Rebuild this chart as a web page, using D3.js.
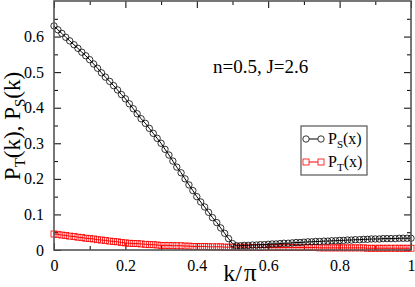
<!DOCTYPE html>
<html>
<head>
<meta charset="utf-8">
<script src="https://cdn.jsdelivr.net/npm/d3@7"></script>
<style>
  body { margin: 0; background: #fff; }
  svg { display: block; }
  text { font-family: "Liberation Serif", "Times New Roman", serif; fill: #000; }
</style>
</head>
<body>
<div id="chart"></div>
<script>
// k / pi values
const kVals = [
  0, 0.011, 0.022, 0.033, 0.044, 0.056, 0.067, 0.078, 0.089,
  0.1, 0.111, 0.122, 0.133, 0.144, 0.156, 0.167, 0.178, 0.189,
  0.2, 0.211, 0.222, 0.233, 0.244, 0.256, 0.267, 0.278, 0.289,
  0.3, 0.311, 0.322, 0.333, 0.344, 0.356, 0.367, 0.378, 0.389,
  0.4, 0.411, 0.422, 0.433, 0.444, 0.456, 0.467, 0.478, 0.489,
  0.5, 0.511, 0.522, 0.533, 0.544, 0.556, 0.567, 0.578, 0.589,
  0.6, 0.611, 0.622, 0.633, 0.644, 0.656, 0.667, 0.678, 0.689,
  0.7, 0.711, 0.722, 0.733, 0.744, 0.756, 0.767, 0.778, 0.789,
  0.8, 0.811, 0.822, 0.833, 0.844, 0.856, 0.867, 0.878, 0.889,
  0.9, 0.911, 0.922, 0.933, 0.944, 0.956, 0.967, 0.978, 0.989,
  1.0
];

const psVals = [
  0.630, 0.619, 0.609, 0.598, 0.588, 0.577, 0.567, 0.556, 0.546,
  0.535, 0.523, 0.511, 0.498, 0.486, 0.474, 0.462, 0.450, 0.437,
  0.425, 0.411, 0.397, 0.383, 0.369, 0.356, 0.342, 0.328, 0.314,
  0.300, 0.283, 0.267, 0.250, 0.233, 0.217, 0.200, 0.183, 0.167,
  0.150, 0.135, 0.121, 0.106, 0.091, 0.077, 0.062, 0.047, 0.032,
  0.018, 0.012, 0.012, 0.013, 0.013, 0.014, 0.014, 0.015, 0.015,
  0.016, 0.017, 0.017, 0.018, 0.019, 0.019, 0.020, 0.021, 0.021,
  0.022, 0.023, 0.023, 0.024, 0.024, 0.025, 0.025, 0.026, 0.026,
  0.027, 0.027, 0.028, 0.028, 0.029, 0.029, 0.030, 0.030, 0.031,
  0.031, 0.031, 0.032, 0.032, 0.032, 0.032, 0.033, 0.033, 0.033,
  0.033
];

const ptVals = [
  0.045, 0.044, 0.042, 0.041, 0.039, 0.038, 0.036, 0.035, 0.033,
  0.032, 0.031, 0.029, 0.028, 0.027, 0.025, 0.024, 0.023, 0.021,
  0.020, 0.019, 0.018, 0.018, 0.017, 0.016, 0.015, 0.015, 0.014,
  0.013, 0.013, 0.013, 0.012, 0.012, 0.012, 0.011, 0.011, 0.010,
  0.010, 0.010, 0.010, 0.009, 0.009, 0.009, 0.009, 0.008, 0.008,
  0.008, 0.008, 0.008, 0.008, 0.008, 0.007, 0.007, 0.007, 0.007,
  0.007, 0.007, 0.007, 0.007, 0.007, 0.007, 0.007, 0.007, 0.007,
  0.007, 0.007, 0.007, 0.007, 0.006, 0.006, 0.006, 0.006, 0.006,
  0.006, 0.006, 0.006, 0.006, 0.006, 0.006, 0.006, 0.005, 0.005,
  0.005, 0.005, 0.005, 0.005, 0.005, 0.005, 0.005, 0.005, 0.005,
  0.005
];

const xTicks = [0, 0.2, 0.4, 0.6, 0.8, 1];
const xTickLabels = ["0", "0.2", "0.4", "0.6", "0.8", "1"];
const xMinor = [0.1, 0.3, 0.5, 0.7, 0.9];
const yTicks = [0, 0.1, 0.2, 0.3, 0.4, 0.5, 0.6];
const yTickLabels = ["0", "0.1", "0.2", "0.3", "0.4", "0.5", "0.6"];
const yMinor = [0.05, 0.15, 0.25, 0.35, 0.45, 0.55, 0.65];

const width = 415;
const height = 287;
const margin = { left: 54, right: 4, top: 1, bottom: 37 };
const plotW = width - margin.left - margin.right;
const plotH = height - margin.top - margin.bottom;

const svg = d3.select("#chart")
    .append("svg")
    .attr("width", width)
    .attr("height", height);

const g = svg.append("g")
    .attr("transform", `translate(${margin.left}, ${margin.top})`);

const xScale = d3.scaleLinear().domain([0, 1]).range([0, plotW]);
const yScale = d3.scaleLinear().domain([0, 0.7]).range([plotH, 0]);

const majorLen = 7;
const minorLen = 4;

// inward ticks on all four sides
function styleAxis(sel) {
    sel.select(".domain").remove();
    sel.attr("font-family", null);
    sel.selectAll(".tick line").attr("stroke", "#000").attr("stroke-width", 1);
    sel.selectAll("text").attr("font-size", "16px").attr("fill", "#000");
}

g.append("g")
    .attr("transform", `translate(0, ${plotH})`)
    .call(d3.axisBottom(xScale).tickValues(xTicks).tickSize(-majorLen).tickPadding(majorLen + 3)
        .tickFormat((d, i) => xTickLabels[i]))
    .call(styleAxis);

g.append("g")
    .attr("transform", `translate(0, ${plotH})`)
    .call(d3.axisBottom(xScale).tickValues(xMinor).tickSize(-minorLen).tickFormat(""))
    .call(styleAxis);

g.append("g")
    .call(d3.axisTop(xScale).tickValues(xTicks).tickSize(-majorLen).tickFormat(""))
    .call(styleAxis);

g.append("g")
    .call(d3.axisTop(xScale).tickValues(xMinor).tickSize(-minorLen).tickFormat(""))
    .call(styleAxis);

g.append("g")
    .call(d3.axisLeft(yScale).tickValues(yTicks).tickSize(-majorLen).tickPadding(majorLen + 3)
        .tickFormat((d, i) => yTickLabels[i]))
    .call(styleAxis);

g.append("g")
    .call(d3.axisLeft(yScale).tickValues(yMinor).tickSize(-minorLen).tickFormat(""))
    .call(styleAxis);

g.append("g")
    .attr("transform", `translate(${plotW}, 0)`)
    .call(d3.axisRight(yScale).tickValues(yTicks).tickSize(-majorLen).tickFormat(""))
    .call(styleAxis);

g.append("g")
    .attr("transform", `translate(${plotW}, 0)`)
    .call(d3.axisRight(yScale).tickValues(yMinor).tickSize(-minorLen).tickFormat(""))
    .call(styleAxis);

const psData = kVals.map((k, i) => ({ k: k, v: psVals[i] }));
const ptData = kVals.map((k, i) => ({ k: k, v: ptVals[i] }));

const line = d3.line()
    .x(d => xScale(d.k))
    .y(d => yScale(d.v));

// P_T series (red squares)
g.append("path")
    .datum(ptData)
    .attr("fill", "none")
    .attr("stroke", "#ff0000")
    .attr("stroke-width", 1)
    .attr("d", line);

g.selectAll(".pt")
    .data(ptData)
    .enter().append("rect")
    .attr("class", "pt")
    .attr("x", d => xScale(d.k) - 3)
    .attr("y", d => yScale(d.v) - 3)
    .attr("width", 6)
    .attr("height", 6)
    .attr("fill", "none")
    .attr("stroke", "#ff0000")
    .attr("stroke-width", 0.8);

// P_S series (black circles)
g.append("path")
    .datum(psData)
    .attr("fill", "none")
    .attr("stroke", "#000")
    .attr("stroke-width", 1)
    .attr("d", line);

g.selectAll(".ps")
    .data(psData)
    .enter().append("circle")
    .attr("class", "ps")
    .attr("cx", d => xScale(d.k))
    .attr("cy", d => yScale(d.v))
    .attr("r", 3.2)
    .attr("fill", "none")
    .attr("stroke", "#000")
    .attr("stroke-width", 0.8);

// frame
g.append("rect")
    .attr("x", 0)
    .attr("y", 0)
    .attr("width", plotW)
    .attr("height", plotH)
    .attr("fill", "none")
    .attr("stroke", "#555")
    .attr("stroke-width", 1.6);

// annotation
svg.append("text")
    .attr("x", 213)
    .attr("y", 73)
    .attr("font-size", "19px")
    .text("n=0.5, J=2.6");

// legend
const legend = svg.append("g").attr("transform", "translate(301, 126)");
legend.append("rect")
    .attr("width", 66)
    .attr("height", 49)
    .attr("fill", "#fff")
    .attr("stroke", "#555")
    .attr("stroke-width", 1.2);

const legendItems = [
    { name: "P", sub: "S", tail: "(x)", color: "#000", shape: "circle" },
    { name: "P", sub: "T", tail: "(x)", color: "#ff0000", shape: "rect" }
];

legendItems.forEach((it, i) => {
    const yy = 13 + i * 23;
    legend.append("line")
        .attr("x1", 5).attr("x2", 20)
        .attr("y1", yy).attr("y2", yy)
        .attr("stroke", it.color).attr("stroke-width", 1);
    [5, 20].forEach(xx => {
        if (it.shape === "circle") {
            legend.append("circle").attr("cx", xx).attr("cy", yy).attr("r", 3.2)
                .attr("fill", "#fff").attr("stroke", it.color).attr("stroke-width", 0.8);
        } else {
            legend.append("rect").attr("x", xx - 3).attr("y", yy - 3).attr("width", 6).attr("height", 6)
                .attr("fill", "#fff").attr("stroke", it.color).attr("stroke-width", 0.8);
        }
    });
    const t = legend.append("text")
        .attr("x", 27)
        .attr("y", yy + 5)
        .attr("font-size", "16px");
    t.append("tspan").text(it.name);
    t.append("tspan").attr("font-size", "11px").attr("dy", 4).text(it.sub);
    t.append("tspan").attr("dy", -4).text(it.tail);
});

// axis titles
const yTitle = svg.append("text")
    .attr("transform", "translate(20, 126) rotate(-90)")
    .attr("text-anchor", "middle")
    .attr("font-size", "23px");
yTitle.append("tspan").text("P");
yTitle.append("tspan").attr("font-size", "15px").attr("dy", 5).text("T");
yTitle.append("tspan").attr("dy", -5).text("(k), P");
yTitle.append("tspan").attr("font-size", "15px").attr("dy", 5).text("S");
yTitle.append("tspan").attr("dy", -5).text("(k)");

const xTitle = svg.append("text")
    .attr("x", 240)
    .attr("y", 281)
    .attr("text-anchor", "middle")
    .attr("font-size", "24px");
xTitle.append("tspan").text("k/");
xTitle.append("tspan").attr("dx", 2).attr("font-size", "25px").text("\u03c0");
</script>
</body>
</html>
